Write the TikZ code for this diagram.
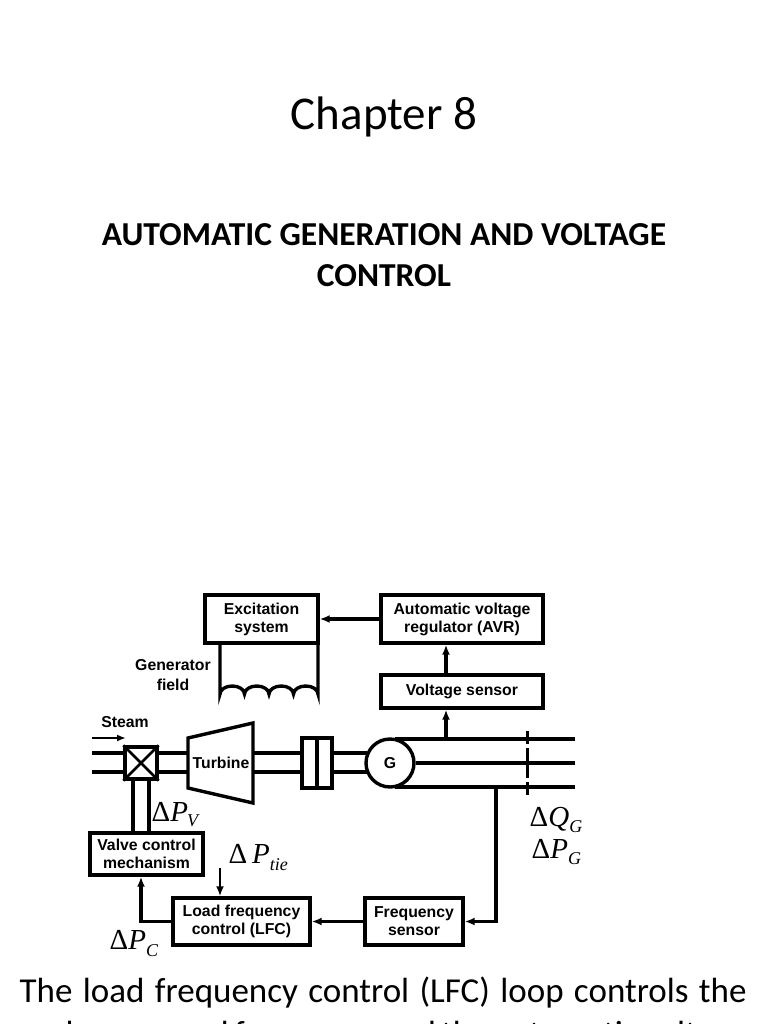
\documentclass[tikz,border=0pt]{standalone}
\usepackage{fontspec}
\setmainfont{Carlito}
\newfontfamily\arl{Liberation Sans}
\newfontfamily\tms{Liberation Serif}
\usetikzlibrary{arrows.meta}
\begin{document}
\begin{tikzpicture}[x=1pt,y=-1pt,line width=3.4pt,
  every node/.style={line width=3.4pt},
  box/.style={draw,rectangle,inner sep=0pt,font=\arl\bfseries\fontsize{15.8}{18}\selectfont,align=center},
  arr/.style={-{Latex[length=10pt,width=8pt]}},
  lbl/.style={font=\tms\fontsize{29}{30}\selectfont,inner sep=0pt}]
\useasboundingbox (0,0) rectangle (768,1024);
\node (ch) at (384,117) {\fontsize{47}{50}\selectfont Chapter 8};
\node[align=center,font=\bfseries\fontsize{33.5}{41}\selectfont] (t) at (384,255) {AUTOMATIC GENERATION AND VOLTAGE\\CONTROL};
% boxes
\node[box,minimum width=113pt,minimum height=48pt] (exc) at (261.5,619) {Excitation\\system};
\node[box,minimum width=162pt,minimum height=48pt] (avr) at (462,619) {Automatic voltage\\regulator (AVR)};
\node[box,minimum width=162pt,minimum height=33pt] (vs) at (462,691.5) {Voltage sensor};
\node[box,minimum width=113pt,minimum height=42pt] (vcm) at (146.5,854) {Valve control\\mechanism};
\node[box,minimum width=137pt,minimum height=47pt] (lfc) at (241.5,921.5) {Load frequency\\control (LFC)};
\node[box,minimum width=98pt,minimum height=47pt] (fs) at (414,921.5) {Frequency\\sensor};
\draw[arr] (avr.west) -- (exc.east);
\draw[arr] (vs.north -| 446,0) -- (avr.south -| 446,0);
\draw[arr] (fs.west) -- (lfc.east);
% generator field
\node[font=\arl\bfseries\fontsize{15.8}{20}\selectfont,align=center] (gf) at (173,675) {Generator\\field};
\draw (220,643) -- (220,694) arc[start angle=180,end angle=360,x radius=12.25,y radius=8] arc[start angle=180,end angle=360,x radius=12.25,y radius=8] arc[start angle=180,end angle=360,x radius=12.25,y radius=8] arc[start angle=180,end angle=360,x radius=12.25,y radius=8] -- (318,643);
% steam
\node[font=\arl\bfseries\fontsize{15.8}{18}\selectfont] (st) at (125,722) {Steam};
\coordinate (s1) at (92,738); \coordinate (s2) at (126,738);
\draw[-{Latex[length=9pt,width=7pt]},line width=2.6pt] (s1) -- (s2);
% valve
\node[draw,minimum size=32pt,inner sep=0pt] (v) at (141,763) {};
\draw[line width=2.6pt] (v.north west) -- (v.south east) (v.north east) -- (v.south west);
\draw (92,753) -- (v.west |- 0,753) (92,772) -- (v.west |- 0,772);
% turbine
\draw (188,738) -- (253,723) -- (253,803) -- (188,788) -- cycle;
\node[font=\arl\bfseries\fontsize{15.8}{18}\selectfont,inner sep=0] (tb) at (221,763) {Turbine};
\draw (157,753) -- (188,753) (157,772) -- (188,772);
% shaft & coupling
\draw (253,753) -- (302,753) (253,772) -- (302,772);
\draw (302,738) rectangle (332,788); \draw (317,738) -- (317,788);
\draw (332,753) -- (367,753) (332,772) -- (367,772);
\node[draw,circle,minimum size=48pt,inner sep=0pt,font=\arl\bfseries\fontsize{15.8}{18}\selectfont] (g) at (390,763) {G};
\draw (395,739) -- (575,739) (g.east) -- (575,763) (395,787) -- (575,787);
\draw[line width=3pt,dash pattern=on 13pt off 4pt] (527,731) -- (527,798);
\coordinate (vtap) at (446,739);
\draw[arr] (vtap) -- (vs.south -| vtap);
\coordinate (tap) at (496,787);
\draw[arr] (tap) |- (fs.east);
% valve stem
\draw (133,779) -- (133,833) (149,779) -- (149,833);
\coordinate (ptie) at (220,868);
\draw[arr,line width=2.6pt] (ptie) -- (lfc.north -| ptie);
\draw[arr] (lfc.west) -| (vcm.south -| 141,0);
% labels
\node[lbl,anchor=west] (pv) at (150,815) {Δ\textit{P}\kern-1pt\raisebox{-5pt}{\fontsize{18}{18}\selectfont\textit{V}}};
\node[lbl,anchor=west] (pt) at (227,858) {Δ\,\textit{P}\raisebox{-7pt}{\fontsize{18}{18}\selectfont\textit{tie}}};
\node[lbl,anchor=west] (pc) at (108,943) {Δ\textit{P}\raisebox{-7pt}{\fontsize{18}{18}\selectfont\textit{C}}};
\node[lbl,anchor=west] (qg) at (528,820) {Δ\textit{Q}\raisebox{-6pt}{\fontsize{18}{18}\selectfont\textit{G}}};
\node[lbl,anchor=west] (pg) at (530,852) {Δ\textit{P}\raisebox{-6pt}{\fontsize{18}{18}\selectfont\textit{G}}};
% bottom text
\node[anchor=west,inner sep=0,font=\fontsize{35}{38}\selectfont] (bt) at (18,993) {\makebox[727pt][s]{The load frequency control (LFC) loop controls the}};
\begin{scope}
\clip (0,1010) rectangle (768,1024);
\node[anchor=west,inner sep=0,font=\fontsize{35}{38}\selectfont] (bt2) at (18,1036) {\makebox[727pt][s]{real power and frequency and the automatic voltage}};
\end{scope}
\end{tikzpicture}
\end{document}
